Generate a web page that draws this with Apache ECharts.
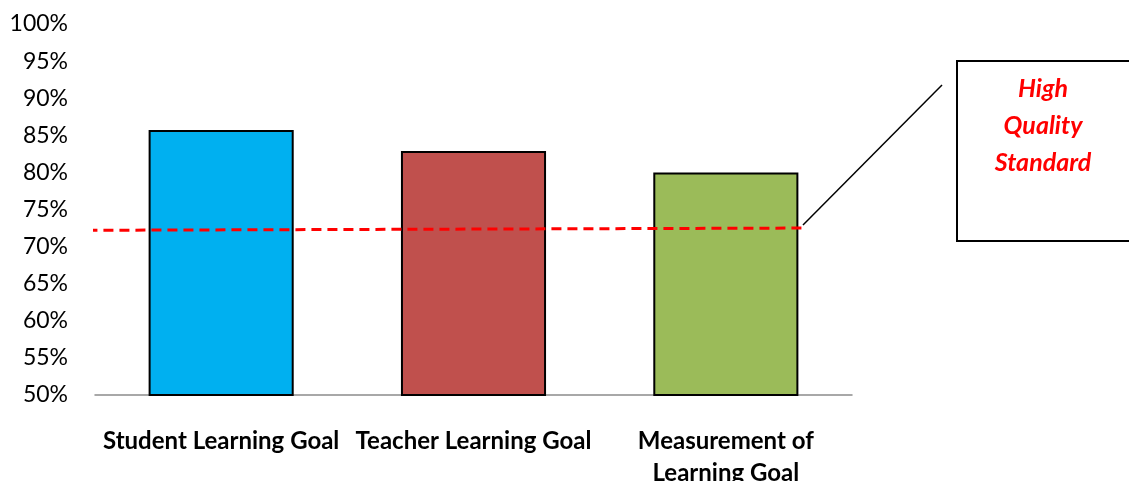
<!DOCTYPE html>
<html>
<head>
<meta charset="utf-8">
<script src="https://cdn.jsdelivr.net/npm/echarts@6/dist/echarts.min.js"></script>
<style>
  html, body { margin: 0; padding: 0; background: #fff; }
  #chart { width: 1129px; height: 481px; }
</style>
</head>
<body>
<div id="chart"></div>
<script>
var categories = ['Student Learning Goal', 'Teacher Learning Goal', 'Measurement of\nLearning Goal'];
var scores = [85.7, 82.9, 80.0];
var barColors = ['#00B0F0', '#C0504D', '#9BBB59'];
// high quality standard line: [x position on hidden value axis, percent]
var standardLine = [[-0.03, 72.2], [2.81, 72.5]];

var chartDom = document.getElementById('chart');
var chart = echarts.init(chartDom);

var option = {
  animation: false,
  textStyle: { fontFamily: 'Lato' },
  grid: { left: 95, right: 277, top: 24, bottom: 86, outerBoundsMode: 'none' },
  xAxis: [
    {
      type: 'category',
      data: categories,
      axisLine: { lineStyle: { color: '#8c8c8c', width: 1.5 } },
      axisTick: { show: false },
      axisLabel: {
        interval: 0,
        margin: 30,
        color: '#000',
        fontWeight: 'bold',
        fontSize: 24,
        lineHeight: 32,
        hideOverlap: false
      }
    },
    { type: 'value', min: 0, max: 3, show: false }
  ],
  yAxis: {
    type: 'value',
    min: 50,
    max: 100,
    interval: 5,
    axisLine: { show: false },
    axisTick: { show: false },
    splitLine: { show: false },
    axisLabel: {
      formatter: '{value}%',
      color: '#000',
      fontSize: 23,
      margin: 27
    }
  },
  series: [
    {
      type: 'bar',
      barWidth: '57.5%',
      data: scores.map(function (v, i) {
        return { value: v, itemStyle: { color: barColors[i] } };
      }),
      itemStyle: { borderColor: '#000', borderWidth: 2 }
    },
    {
      type: 'line',
      xAxisIndex: 1,
      data: standardLine,
      symbol: 'none',
      clip: false,
      lineStyle: { color: '#FF0000', width: 3, type: [10, 6] },
      z: 5
    }
  ],
  graphic: [
    {
      type: 'line',
      shape: { x1: 803, y1: 225, x2: 942, y2: 85 },
      style: { stroke: '#000', lineWidth: 1.5 }
    },
    {
      type: 'rect',
      shape: { x: 957, y: 61, width: 190, height: 180 },
      style: { fill: '#fff', stroke: '#000', lineWidth: 2 }
    },
    {
      type: 'text',
      x: 1043,
      y: 70,
      style: {
        text: 'High\nQuality\nStandard',
        align: 'center',
        verticalAlign: 'top',
        fill: '#FF0000',
        font: 'italic bold 25px Lato',
        lineHeight: 37
      }
    }
  ]
};

chart.setOption(option);

window.addEventListener('resize', function () {
  chart.resize();
});
</script>
</body>
</html>
